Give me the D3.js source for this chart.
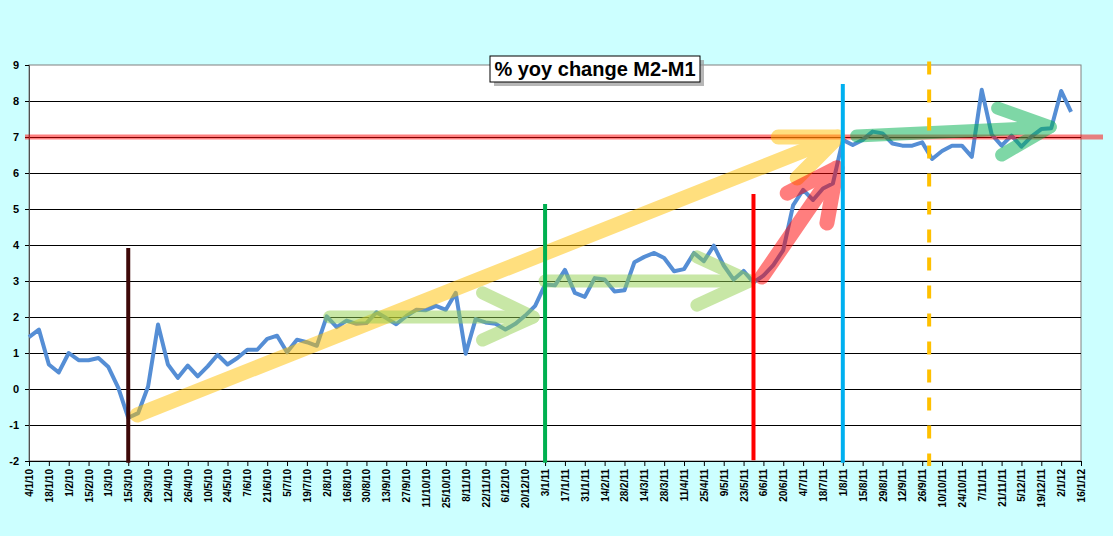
<!DOCTYPE html>
<html>
<head>
<meta charset="utf-8">
<script src="https://cdn.jsdelivr.net/npm/d3@7"></script>
<style>
  body { margin: 0; background: #ccffff; }
  svg { display: block; }
  text { font-family: Arial, "Liberation Sans", sans-serif; }
</style>
</head>
<body>
<div id="chart"></div>
<script>
// weekly observations, week 0 = 4/1/10
const values = [
  1.44, 1.65, 0.68, 0.46, 1.0, 0.8, 0.8, 0.86, 0.61, 0.03,
  -0.8, -0.67, 0.07, 1.79, 0.68, 0.31, 0.65, 0.35, 0.63, 0.95,
  0.68, 0.86, 1.09, 1.09, 1.39, 1.48, 1.02, 1.37, 1.3, 1.2,
  2.02, 1.72, 1.9, 1.81, 1.83, 2.13, 1.97, 1.8, 2.02, 2.2,
  2.19, 2.31, 2.2, 2.67, 0.98, 1.94, 1.85, 1.81, 1.65, 1.81,
  2.04, 2.31, 2.9, 2.88, 3.31, 2.67, 2.56, 3.08, 3.04, 2.71,
  2.74, 3.52, 3.67, 3.78, 3.64, 3.27, 3.33, 3.78, 3.55, 3.98,
  3.43, 3.04, 3.28, 2.96, 3.15, 3.44, 3.86, 5.11, 5.53, 5.25,
  5.57, 5.71, 6.92, 6.78, 6.92, 7.15, 7.1, 6.82, 6.76, 6.76,
  6.85, 6.39, 6.61, 6.76, 6.76, 6.45, 8.31, 7.07, 6.76, 7.04,
  6.73, 7.01, 7.22, 7.24, 8.28, 7.7
];

// one label every second week
const tickLabels = [
  "4/1/10", "18/1/10", "1/2/10", "15/2/10", "1/3/10", "15/3/10", "29/3/10",
  "12/4/10", "26/4/10", "10/5/10", "24/5/10", "7/6/10", "21/6/10", "5/7/10",
  "19/7/10", "2/8/10", "16/8/10", "30/8/10", "13/9/10", "27/9/10", "11/10/10",
  "25/10/10", "8/11/10", "22/11/10", "6/12/10", "20/12/10", "3/1/11", "17/1/11",
  "31/1/11", "14/2/11", "28/2/11", "14/3/11", "28/3/11", "11/4/11", "25/4/11",
  "9/5/11", "23/5/11", "6/6/11", "20/6/11", "4/7/11", "18/7/11", "1/8/11",
  "15/8/11", "29/8/11", "12/9/11", "26/9/11", "10/10/11", "24/10/11", "7/11/11",
  "21/11/11", "5/12/11", "19/12/11", "2/1/12", "16/1/12"
];

const yTicks = [-2, -1, 0, 1, 2, 3, 4, 5, 6, 7, 8, 9];

// marker lines: week index, top value, bottom value
const markers = [
  { week: 10, top: 3.92, bottom: -2.05, color: "#3d0808", dash: null },
  { week: 52, top: 5.14, bottom: -2.05, color: "#00b050", dash: null },
  { week: 73, top: 5.42, bottom: -1.98, color: "#ff0000", dash: null },
  { week: 82, top: 8.47, bottom: -2.05, color: "#00b0f0", dash: null },
  { week: 90.7, top: 9.1, bottom: -2.14, color: "#ffc000", dash: "13,15" }
];

// annotation arrows in (week, value) units: shaft start, tip, two wing ends
const arrows = [
  { from: [10.9, -0.72], tip: [81.5, 7.0], wings: [[75.5, 7.0], [77.4, 5.86]], color: "#ffc000", w: 15 },
  { from: [30.3, 2.0], tip: [50.8, 2.0], wings: [[45.7, 2.67], [45.7, 1.36]], color: "#92d050", w: 13 },
  { from: [52.0, 3.0], tip: [72.6, 3.0], wings: [[67.3, 3.67], [67.3, 2.33]], color: "#92d050", w: 13 },
  { from: [73.85, 3.11], tip: [81.4, 6.14], wings: [[76.4, 5.44], [80.4, 4.61]], color: "#ff0000", w: 15 },
  { from: [83.4, 7.03], tip: [102.9, 7.28], wings: [[97.6, 7.8], [98.0, 6.5]], color: "#00b050", w: 13 }
];

const width = 1113, height = 536;
const plotLeft = 29, plotRight = 1081, plotTop = 65, plotBottom = 461;

const svg = d3.select("#chart")
  .append("svg")
  .attr("width", width)
  .attr("height", height);

const x = d3.scaleLinear().domain([0, 106]).range([plotLeft, plotRight]);
const y = d3.scaleLinear().domain([-2, 9]).range([plotBottom, plotTop]);

// plot area
svg.append("rect")
  .attr("x", plotLeft).attr("y", plotTop)
  .attr("width", plotRight - plotLeft).attr("height", plotBottom - plotTop)
  .attr("fill", "#fff")
  .attr("stroke", "#808080");

// gridlines
svg.append("g")
  .selectAll("line")
  .data(yTicks.filter(d => d > -2 && d < 9))
  .enter()
  .append("line")
  .attr("x1", plotLeft).attr("x2", plotRight)
  .attr("y1", d => y(d)).attr("y2", d => y(d))
  .attr("stroke", "#000")
  .attr("shape-rendering", "crispEdges");

// Y axis
const yAxis = svg.append("g")
  .attr("transform", `translate(${plotLeft},0)`)
  .call(d3.axisLeft(y).tickValues(yTicks).tickFormat(d => String(d)).tickSize(4).tickPadding(6));
yAxis.select(".domain").attr("stroke", "#505050");
yAxis.selectAll("text")
  .attr("font-size", "11px")
  .attr("font-weight", "bold")
  .attr("fill", "#000");

// X axis
const xAxis = svg.append("g")
  .attr("transform", `translate(0,${plotBottom})`)
  .call(d3.axisBottom(x)
    .tickValues(d3.range(0, 107, 2))
    .tickFormat((d, i) => tickLabels[i])
    .tickSize(5)
    .tickSizeOuter(0));
xAxis.select(".domain").attr("stroke", "#000");
xAxis.selectAll("text")
  .attr("font-size", "10px")
  .attr("font-weight", "bold")
  .attr("fill", "#000")
  .attr("transform", "rotate(-90)")
  .attr("x", -8)
  .attr("y", 0)
  .attr("dy", "0.35em")
  .style("text-anchor", "end");

// series line
const line = d3.line()
  .x((d, i) => x(i))
  .y(d => y(d));

svg.append("path")
  .datum(values)
  .attr("fill", "none")
  .attr("stroke", "#558ed5")
  .attr("stroke-width", 4)
  .attr("stroke-linejoin", "round")
  .attr("d", line);

// red 7% line
svg.append("line")
  .attr("x1", plotLeft - 4).attr("x2", 1103)
  .attr("y1", y(7)).attr("y2", y(7))
  .attr("stroke", "rgba(255,0,0,0.5)")
  .attr("stroke-width", 5);

// arrows, each one drawn solid inside a half-transparent group
arrows.forEach(a => {
  const g = svg.append("g").attr("opacity", 0.5);
  g.append("line")
    .attr("x1", x(a.from[0])).attr("y1", y(a.from[1]))
    .attr("x2", x(a.tip[0])).attr("y2", y(a.tip[1]))
    .attr("stroke", a.color)
    .attr("stroke-width", a.w)
    .attr("stroke-linecap", "round");
  g.append("path")
    .attr("d", d3.line()([
      [x(a.wings[0][0]), y(a.wings[0][1])],
      [x(a.tip[0]), y(a.tip[1])],
      [x(a.wings[1][0]), y(a.wings[1][1])]
    ]))
    .attr("fill", "none")
    .attr("stroke", a.color)
    .attr("stroke-width", a.w)
    .attr("stroke-linecap", "round")
    .attr("stroke-linejoin", "round");
});

// marker lines
svg.append("g")
  .selectAll("line")
  .data(markers)
  .enter()
  .append("line")
  .attr("x1", d => x(d.week)).attr("x2", d => x(d.week))
  .attr("y1", d => y(d.top)).attr("y2", d => y(d.bottom))
  .attr("stroke", d => d.color)
  .attr("stroke-width", 4)
  .attr("stroke-dasharray", d => d.dash);

// title box
const title = svg.append("g").attr("transform", "translate(490,56)");
title.append("rect")
  .attr("x", 4).attr("y", 4)
  .attr("width", 210).attr("height", 26)
  .attr("fill", "#999")
  .attr("opacity", 0.7);
title.append("rect")
  .attr("width", 210).attr("height", 26)
  .attr("fill", "#fff")
  .attr("stroke", "#000");
title.append("text")
  .attr("x", 105).attr("y", 20)
  .attr("text-anchor", "middle")
  .attr("font-size", "20px")
  .attr("font-weight", "bold")
  .text("% yoy change M2-M1");
</script>
</body>
</html>
